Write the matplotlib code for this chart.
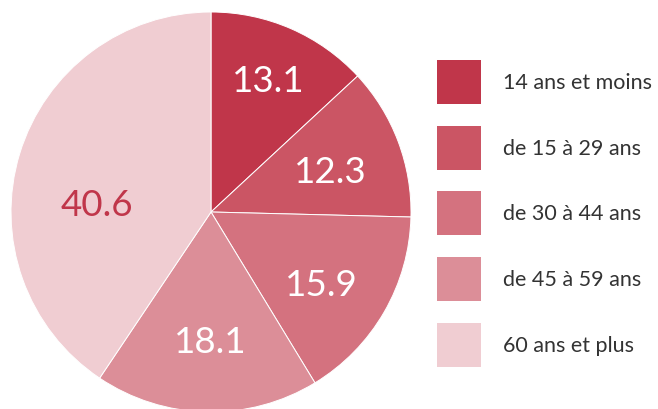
import matplotlib.pyplot as plt
import numpy as np
from matplotlib.patches import Rectangle

plt.rcParams['font.family'] = ['Lato', 'DejaVu Sans']

# Données
categories = ["14 ans et moins", "de 15 à 29 ans", "de 30 à 44 ans",
              "de 45 à 59 ans", "60 ans et plus"]
valeurs = [13.1, 12.3, 15.9, 18.1, 40.6]
couleurs = ["#C0364A", "#CB5564", "#D4727F", "#DC8E98", "#F0CDD2"]
couleurs_texte = ["white", "white", "white", "white", "#C0364A"]

# placement des étiquettes (distance au centre, décalage angulaire en degrés)
dist_label = [0.72, 0.63, 0.66, 0.65, 0.57]
decal_label = [0, -2, -3, 1, 13]

W, H = 658, 410
fig = plt.figure(figsize=(W / 100, H / 100), dpi=100)

# Camembert : centre (211, 213), rayon 200 px
cx, cy, r = 211, 213, 200
ax = fig.add_axes([(cx - r) / W, (H - cy - r) / H, 2 * r / W, 2 * r / H])
wedges, _ = ax.pie(valeurs, colors=couleurs, startangle=90, counterclock=False,
                   radius=1, wedgeprops=dict(edgecolor="white", linewidth=0.7))
ax.set_xlim(-1, 1)
ax.set_ylim(-1, 1)
ax.set_aspect("equal")
ax.axis("off")

# Étiquettes des valeurs
for w, v, d, dec, c in zip(wedges, valeurs, dist_label, decal_label, couleurs_texte):
    ang = np.deg2rad((w.theta1 + w.theta2) / 2 + dec)
    ax.text(d * np.cos(ang), d * np.sin(ang), f"{v:.1f}",
            ha="center", va="center", fontsize=26.5, color=c)

# Légende
leg = fig.add_axes([0, 0, 1, 1])
leg.set_xlim(0, W)
leg.set_ylim(H, 0)
leg.axis("off")
for i, (cat, col) in enumerate(zip(categories, couleurs)):
    y0 = 61 + i * 65.7
    leg.add_patch(Rectangle((437, y0), 44, 44, facecolor=col, edgecolor="none"))
    leg.text(503, y0 + 22, cat, ha="left", va="center", fontsize=15.5, color="#333333")

fig.savefig("out.png", dpi=100)
plt.close(fig)
